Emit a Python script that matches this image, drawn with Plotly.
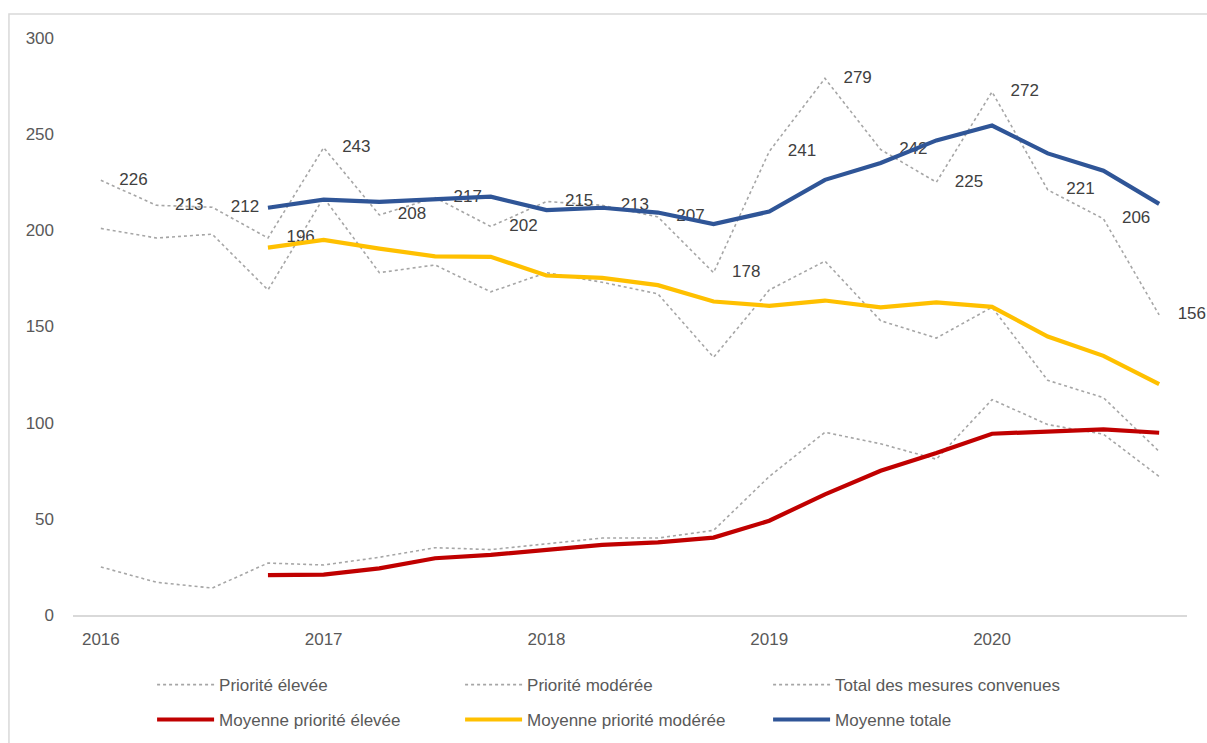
import plotly.graph_objects as go

quarters = list(range(20))
year_ticks = [0, 4, 8, 12, 16]
year_labels = ["2016", "2017", "2018", "2019", "2020"]

prio_elevee = [25, 17, 14, 27, 26, 30, 35, 34, 37, 40, 40, 44, 72, 95, 89, 81, 112, 99, 94, 72]
prio_moderee = [201, 196, 198, 169, 217, 178, 182, 168, 178, 173, 167, 134, 169, 184, 153, 144, 160, 122, 113, 85]
total_mesures = [226, 213, 212, 196, 243, 208, 217, 202, 215, 213, 207, 178, 241, 279, 242, 225, 272, 221, 206, 156]

moy_elevee = [None, None, None, 20.75, 21, 24.25, 29.5, 31.25, 34, 36.5, 37.75, 40.25, 49, 62.75, 75, 84.25, 94.25, 95.25, 96.5, 94.75]
moy_moderee = [None, None, None, 191, 195, 190.5, 186.5, 186.25, 176.5, 175.25, 171.5, 163, 160.75, 163.5, 160, 162.5, 160.25, 144.75, 134.75, 120]
moy_totale = [None, None, None, 211.75, 216, 214.75, 216, 217.5, 210.5, 211.75, 209.25, 203.25, 209.75, 226.25, 235, 246.75, 254.5, 240, 231, 213.75]

FONT = "Liberation Sans"
GREY_DOT = "#A6A6A6"

fig = go.Figure()

dot_style = dict(color=GREY_DOT, width=1.6, dash="dot")

fig.add_trace(go.Scatter(x=quarters, y=prio_elevee, mode="lines", name="Priorité élevée",
                         line=dot_style, legend="legend", hoverinfo="skip"))
fig.add_trace(go.Scatter(x=quarters, y=prio_moderee, mode="lines", name="Priorité modérée",
                         line=dot_style, legend="legend", hoverinfo="skip"))
fig.add_trace(go.Scatter(x=quarters, y=total_mesures, mode="lines+markers+text", name="Total des mesures convenues",
                         line=dot_style, marker=dict(size=28, color="rgba(0,0,0,0)"),
                         text=[str(v) for v in total_mesures],
                         textposition="middle right",
                         textfont=dict(family=FONT, size=17, color="#404040"),
                         cliponaxis=False, legend="legend", hoverinfo="skip"))

fig.add_trace(go.Scatter(x=quarters, y=moy_elevee, mode="lines", name="Moyenne priorité élevée",
                         line=dict(color="#C00000", width=4.2), legend="legend2"))
fig.add_trace(go.Scatter(x=quarters, y=moy_moderee, mode="lines", name="Moyenne priorité modérée",
                         line=dict(color="#FFC000", width=4.2), legend="legend2"))
fig.add_trace(go.Scatter(x=quarters, y=moy_totale, mode="lines", name="Moyenne totale",
                         line=dict(color="#2F5597", width=4.2), legend="legend2"))

legend_common = dict(
    orientation="h",
    xref="container", yref="container",
    xanchor="left", yanchor="middle",
    entrywidth=236, entrywidthmode="pixels",
    itemwidth=57,
    font=dict(family=FONT, size=17, color="#595959"),
    bgcolor="rgba(0,0,0,0)",
    itemclick=False, itemdoubleclick=False,
)

fig.update_layout(
    width=1207, height=743,
    margin=dict(l=73, r=20, t=38, b=128),
    paper_bgcolor="white", plot_bgcolor="white",
    font=dict(family=FONT, size=17, color="#595959"),
    showlegend=True,
    legend=dict(x=0.126, y=0.078, **legend_common),
    legend2=dict(x=0.126, y=0.031, **legend_common),
    xaxis=dict(
        range=[-0.5, 19.5],
        tickmode="array", tickvals=year_ticks, ticktext=year_labels,
        showgrid=False, zeroline=False,
        showline=True, linecolor="#D9D9D9", linewidth=1.5,
        ticks="", ticklabelstandoff=8,
        tickfont=dict(family=FONT, size=17, color="#595959"),
    ),
    yaxis=dict(
        range=[0, 300], tickmode="array", tickvals=[0, 50, 100, 150, 200, 250, 300],
        showgrid=False, zeroline=False, showline=False,
        ticks="", ticklabelstandoff=18,
        tickfont=dict(family=FONT, size=17, color="#595959"),
    ),
    shapes=[dict(type="rect", xref="paper", yref="paper",
                 x0=-0.0575, x1=1.03, y0=-0.3, y1=1.0416,
                 line=dict(color="#D9D9D9", width=1.5), fillcolor="rgba(0,0,0,0)",
                 layer="below")],
)

fig.write_html("out.html",
               config={"displayModeBar": False},
               post_script="document.body.style.margin='0';document.body.style.overflow='hidden';")
